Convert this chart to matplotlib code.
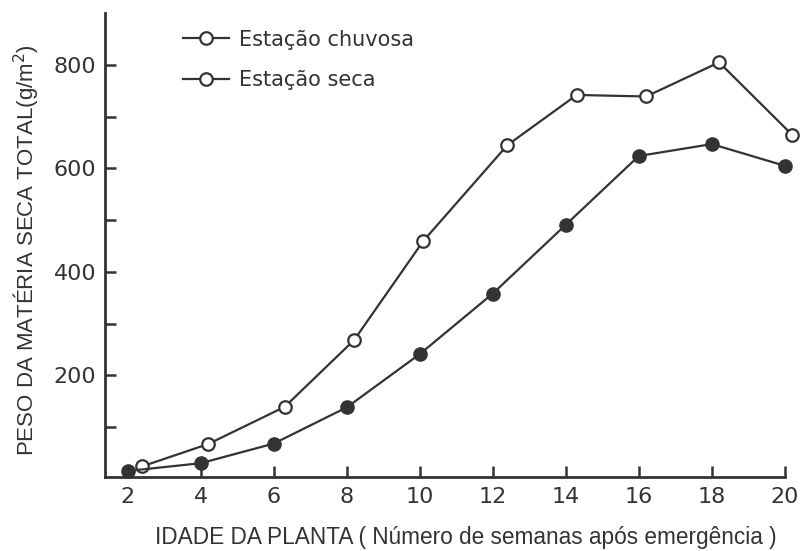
import matplotlib
matplotlib.use("Agg")
import matplotlib.pyplot as plt
from matplotlib.lines import Line2D

# Matéria seca total por idade da planta (semanas após emergência)
semanas_seca = [2, 4, 6, 8, 10, 12, 14, 16, 18, 20]
peso_seca = [15, 30, 68, 138, 241, 358, 491, 624, 647, 605]

semanas_chuvosa = [2.4, 4.2, 6.3, 8.2, 10.1, 12.4, 14.3, 16.2, 18.2, 20.2]
peso_chuvosa = [24, 67, 139, 268, 460, 645, 742, 739, 805, 665]

x_ticks = [2, 4, 6, 8, 10, 12, 14, 16, 18, 20]
y_ticks = [200, 400, 600, 800]
y_minor = [100, 300, 500, 700]

cor = "#333333"
plt.rcParams["font.family"] = ["DejaVu Sans"]
estreita = ["Liberation Sans", "DejaVu Sans"]

fig = plt.figure(figsize=(8, 5.51), dpi=100)
ax = fig.add_axes([0.131, 0.134, 0.85, 0.842])

ax.plot(semanas_chuvosa, peso_chuvosa, color=cor, lw=1.6, marker="o",
        ms=9, mfc="white", mec=cor, mew=1.6, clip_on=False, zorder=3)
ax.plot(semanas_seca, peso_seca, color=cor, lw=1.6, marker="o",
        ms=9.5, mfc=cor, mec=cor, clip_on=False, zorder=3)

ax.set_xlim(1.37, 20)
ax.set_ylim(3, 900)
ax.set_xticks(x_ticks)
ax.set_yticks(y_ticks)
ax.set_yticks(y_minor, minor=True)

for s in ["top", "right"]:
    ax.spines[s].set_visible(False)
for s in ["left", "bottom"]:
    ax.spines[s].set_linewidth(2)
    ax.spines[s].set_color(cor)

ax.tick_params(which="both", direction="in", length=8, width=1.8, color=cor)
ax.tick_params(axis="both", labelsize=16, labelcolor=cor, pad=7)
ax.tick_params(axis="y", pad=6)

ax.set_ylabel("PESO DA MATÉRIA SECA TOTAL(g/m$^2$)", fontsize=16, color=cor,
              va="center", family=estreita)
ax.yaxis.set_label_coords(-0.115, 0.489)
ax.set_xlabel("IDADE DA PLANTA ( Número de semanas após emergência )",
              fontsize=16.3, color=cor, va="center", family=estreita)
ax.xaxis.set_label_coords(0.531, -0.129)

handles = [
    Line2D([], [], color=cor, lw=1.6, marker="o", ms=9, mfc="white",
           mec=cor, mew=1.6),
    Line2D([], [], color=cor, lw=1.6, marker="o", ms=9, mfc="white",
           mec=cor, mew=1.6),
]
ax.legend(handles, ["Estação chuvosa", "Estação seca"], loc="upper left",
          bbox_to_anchor=(0.087, 1.005), frameon=False, fontsize=15,
          handlelength=2.2, handletextpad=0.5, labelspacing=1.0,
          labelcolor=cor)

fig.savefig("out.png", dpi=100, facecolor="white")
